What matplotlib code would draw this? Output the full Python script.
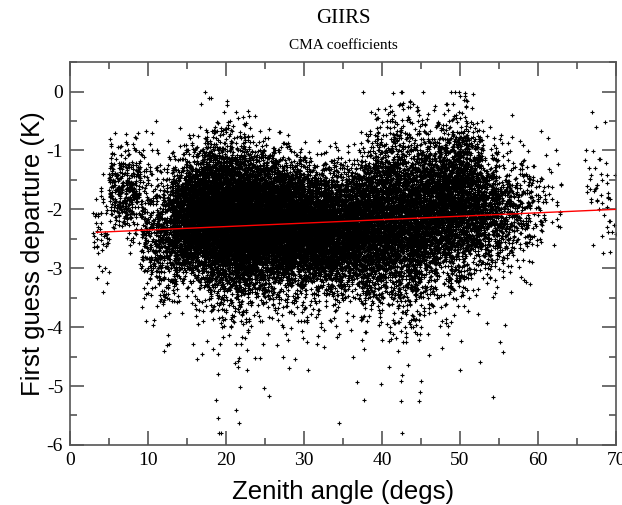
import numpy as np
import matplotlib
matplotlib.use('Agg')
import matplotlib.pyplot as plt
from matplotlib.ticker import MultipleLocator

plt.rcParams['axes.unicode_minus'] = False

# per-zenith-bin summary of the point cloud
bin_lo   = [3, 5, 7, 9, 11, 13, 15, 17, 19, 21, 23, 25, 27, 29, 31, 33, 35, 37, 39, 41,
            43, 45, 47, 49, 51, 53, 55, 57, 59, 61, 66, 68]
bin_hi   = [5, 7, 9, 11, 13, 15, 17, 19, 21, 23, 25, 27, 29, 31, 33, 35, 37, 39, 41, 43,
            45, 47, 49, 51, 53, 55, 57, 59, 61, 63, 68, 70]
bin_mid  = [-2.4, -1.6, -1.7, -2.3, -2.4, -2.2, -2.1, -2.1, -2.15, -2.2, -2.2, -2.2, -2.25,
            -2.25, -2.3, -2.35, -2.3, -2.25, -2.15, -2.1, -2.2, -2.0, -1.95, -1.85, -1.9, -2.0,
            -2.05, -2.0, -1.9, -1.8, -1.7, -1.9]
bin_sd   = [0.5, 0.35, 0.4, 0.6, 0.55, 0.5, 0.5, 0.55, 0.6, 0.6, 0.55, 0.55, 0.5, 0.5, 0.5,
            0.48, 0.48, 0.6, 0.65, 0.68, 0.72, 0.65, 0.62, 0.62, 0.55, 0.5, 0.5, 0.45, 0.4, 0.4,
            0.5, 0.5]
bin_n    = [50, 170, 200, 200, 350, 700, 1100, 1500, 1600, 1600, 1500, 1350, 1250, 1150,
            1050, 950, 900, 950, 950, 950, 950, 850, 850, 850, 600, 400, 230, 140, 60, 20,
            25, 25]

# fitted line (red)
fit_x = [3.4, 70.0]
fit_y = [-2.39, -2.0]

# scatter the cloud inside each bin's envelope
rng = np.random.default_rng(7)
zen, dep = [], []
for lo, hi, m, sd, n in zip(bin_lo, bin_hi, bin_mid, bin_sd, bin_n):
    zen.append(rng.uniform(lo, hi, n))
    d = rng.normal(m, sd, n)
    tail = rng.random(n) < 0.03
    d[tail] = m - np.abs(rng.normal(0, sd * 2.2, tail.sum()))
    dep.append(d)
zen = np.concatenate(zen)
dep = np.clip(np.concatenate(dep), -5.8, 0.0)

fig = plt.figure(figsize=(6.22, 5.05), dpi=100)
ax = fig.add_axes([0.1125, 0.119, 0.878, 0.758])

ax.scatter(zen, dep, marker='+', s=7, linewidths=0.8, c='black', zorder=2)
ax.plot(fit_x, fit_y, color='red', lw=1.0, zorder=3)

ax.set_xlim(0, 70)
ax.set_ylim(-6, 0.5)
ax.xaxis.set_major_locator(MultipleLocator(10))
ax.xaxis.set_minor_locator(MultipleLocator(5))
ax.yaxis.set_major_locator(MultipleLocator(1))
ax.yaxis.set_minor_locator(MultipleLocator(0.5))
ax.tick_params(which='both', direction='in', top=True, right=True, color='#555555', width=1.2)
ax.tick_params(which='major', length=10, pad=5)
ax.tick_params(which='minor', length=5)
for lab in ax.get_xticklabels() + ax.get_yticklabels():
    lab.set_family('Liberation Serif')
    lab.set_fontsize(14)
for s in ax.spines.values():
    s.set_color('#555555')
    s.set_linewidth(1.2)

ax.set_xlabel('Zenith angle (degs)', family='Liberation Sans', fontsize=18.5, labelpad=8)
ax.set_ylabel('First guess departure (K)', family='Liberation Sans', fontsize=18.5, labelpad=1)
fig.text(0.5515, 0.963, 'GIIRS', ha='center', va='center', family='Liberation Serif', fontsize=15)
fig.text(0.5515, 0.91, 'CMA coefficients', ha='center', va='center', family='Liberation Serif', fontsize=11)

fig.savefig('out.png', dpi=100)
